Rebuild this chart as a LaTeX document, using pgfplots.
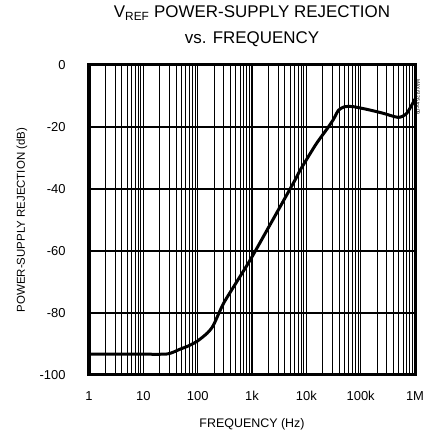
\documentclass[border=0pt]{standalone}
\usepackage{fontspec}
\setmainfont{Liberation Sans}
\usepackage{pgfplots}
\pgfplotsset{compat=1.18}
\begin{document}
\begin{tikzpicture}[x=1bp,y=1bp]
\begin{axis}[
    name=ax, at={(0,0)}, anchor=south west,
    width=326bp, height=310bp, scale only axis,
    xmode=log, xmin=1, xmax=1e6, ymin=-100, ymax=0,
    xtick={1,10,100,1000,10000,100000,1000000},
    xticklabels={1,10,100,1k,10k,100k,1M},
    ytick={-100,-80,-60,-40,-20,0},
    yticklabels={-100,-80,-60,-40,-20,0},
    major tick length=0pt, minor tick length=0pt,
    xmajorgrids, xminorgrids, ymajorgrids,
    major grid style={black, line width=1.3bp},
    minor grid style={black, line width=0.8bp},
    axis line style={line width=3bp},
    tick label style={font=\fontsize{13}{15}\selectfont},
    xticklabel style={yshift=-13bp},
    yticklabel style={anchor=east, xshift=-20bp},
]
\addplot[black, line width=3bp, smooth, tension=0.4] coordinates {
    (1,-93.3) (10,-93.3) (28,-93.2) (47,-91.7) (70,-90.5) (100,-89)
    (150,-86.5) (194,-84) (297,-77) (500,-70.5) (919,-63) (2000,-52.5)
    (6200,-37.1) (7650,-34) (15000,-25.6) (25000,-20.2) (31400,-17.6)
    (39000,-14.6) (50000,-13.5) (70000,-13.4) (129000,-14.3) (250000,-15.5)
    (493000,-16.9) (703000,-15.6) (1000000,-11)
};
\end{axis}
\node[font=\fontsize{17}{19}\selectfont] at (163,362) {V\textsubscript{REF} POWER-SUPPLY REJECTION};
\node[font=\fontsize{17}{19}\selectfont] at (163,336) {vs. FREQUENCY};
\node[font=\fontsize{12.5}{14}\selectfont] at (163,-49) {FREQUENCY (Hz)};
\node[font=\fontsize{11.5}{14}\selectfont, rotate=90] at (-67,155) {POWER-SUPPLY REJECTION (dB)};
\node[font=\fontsize{5}{6}\selectfont, rotate=-90] at (329,278) {MAX6126 toc09};
\pgfresetboundingbox
\path[use as bounding box] (-89,-60) rectangle (333,375);
\end{tikzpicture}
\end{document}
